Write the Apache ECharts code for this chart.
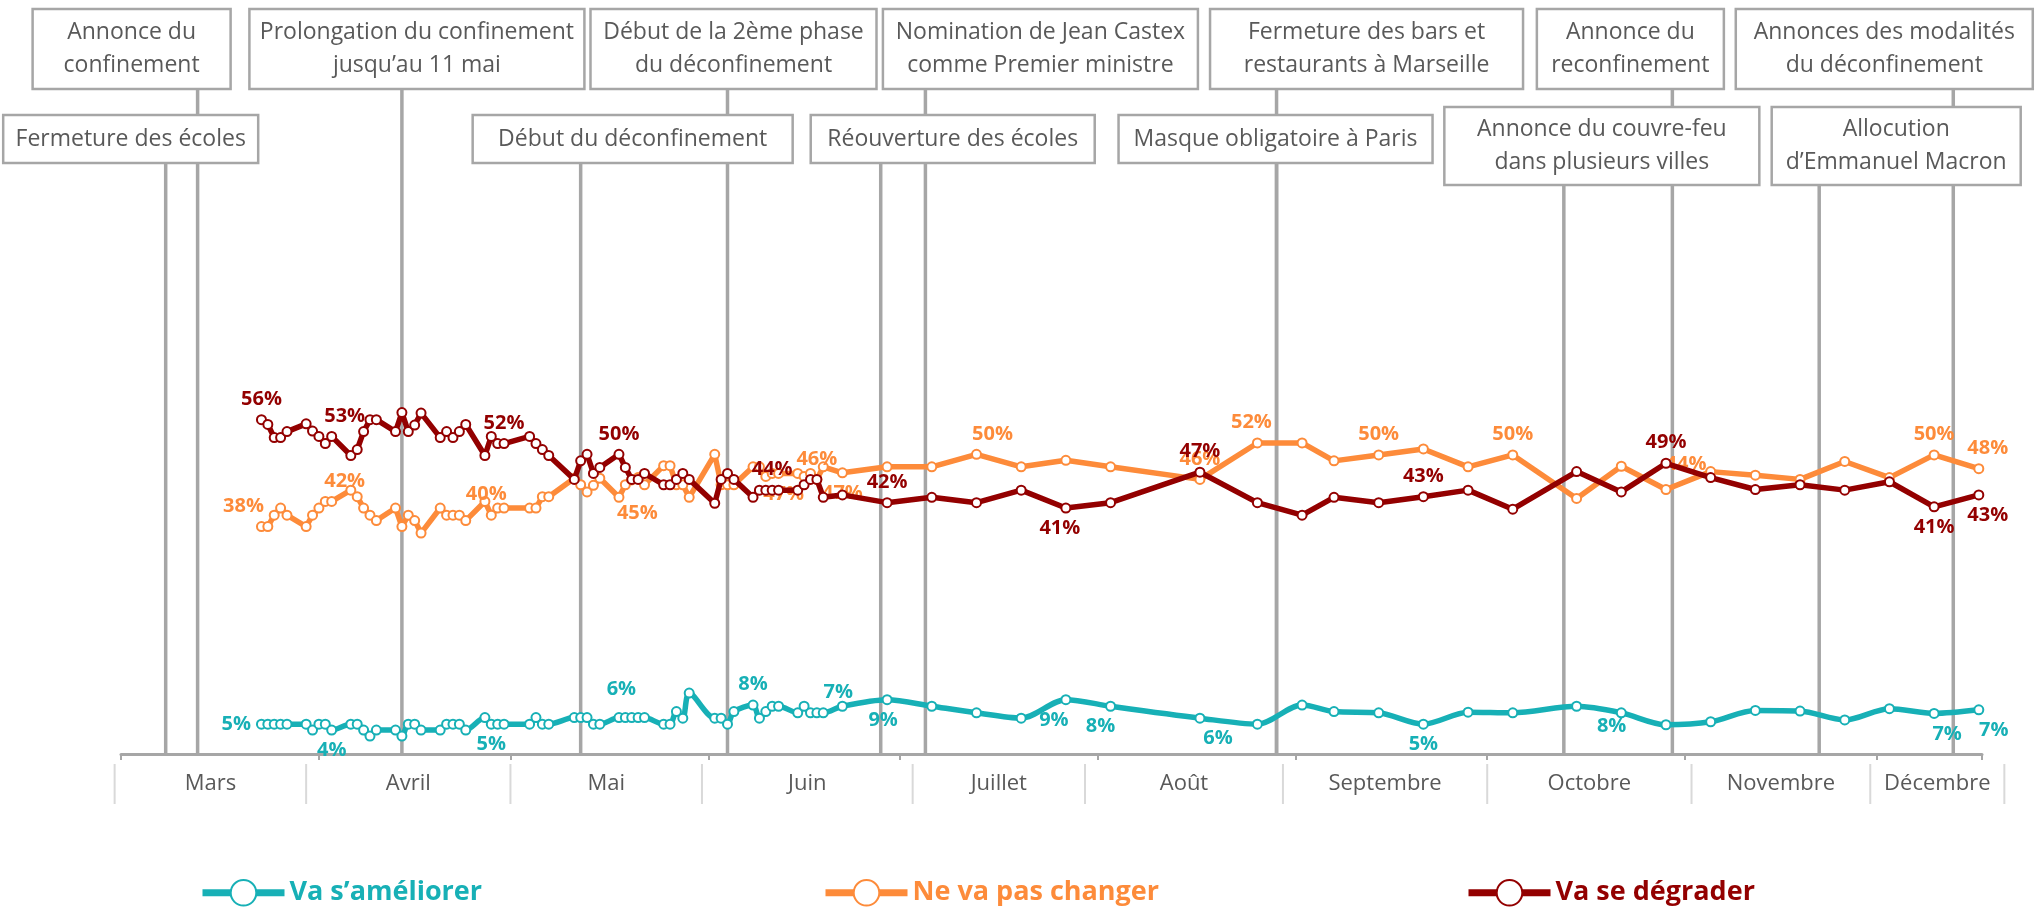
<!DOCTYPE html>
<html>
<head>
<meta charset="utf-8">
<script src="https://cdn.jsdelivr.net/npm/echarts@6/dist/echarts.min.js"></script>
<style>
  html, body { margin: 0; padding: 0; background: #fff; }
  #chart { width: 2037px; height: 910px; }
</style>
</head>
<body>
<div id="chart"></div>
<script>
// survey dates (weekdays in spring, then weekly)
const dates = [
  '2020-03-23','2020-03-24','2020-03-25','2020-03-26','2020-03-27',
  '2020-03-30','2020-03-31','2020-04-01','2020-04-02','2020-04-03',
  '2020-04-06','2020-04-07','2020-04-08','2020-04-09','2020-04-10',
  '2020-04-13','2020-04-14','2020-04-15','2020-04-16','2020-04-17',
  '2020-04-20','2020-04-21','2020-04-22','2020-04-23','2020-04-24',
  '2020-04-27','2020-04-28','2020-04-29','2020-04-30',
  '2020-05-04','2020-05-05','2020-05-06','2020-05-07',
  '2020-05-11','2020-05-12','2020-05-13','2020-05-14','2020-05-15',
  '2020-05-18','2020-05-19','2020-05-20','2020-05-21','2020-05-22',
  '2020-05-25','2020-05-26','2020-05-27','2020-05-28','2020-05-29',
  '2020-06-02','2020-06-03','2020-06-04','2020-06-05',
  '2020-06-08','2020-06-09','2020-06-10','2020-06-11','2020-06-12',
  '2020-06-15','2020-06-16','2020-06-17','2020-06-18','2020-06-19',
  '2020-06-22','2020-06-29','2020-07-06','2020-07-13','2020-07-20','2020-07-27','2020-08-03',
  '2020-08-17','2020-08-26','2020-09-02','2020-09-07','2020-09-14','2020-09-21','2020-09-28',
  '2020-10-05','2020-10-15','2020-10-22','2020-10-29','2020-11-05','2020-11-12','2020-11-19',
  '2020-11-26','2020-12-03','2020-12-10','2020-12-17'
];

const better = [
  5.0, 5.0, 5.0, 5.0, 5.0,
  5.0, 4.0, 5.0, 5.0, 4.0,
  5.0, 5.0, 4.0, 3.0, 4.0,
  4.0, 3.0, 5.0, 5.0, 4.0,
  4.0, 5.0, 5.0, 5.0, 4.0,
  6.1, 5.0, 5.0, 5.0,
  5.0, 6.1, 5.0, 5.0,
  6.1, 6.1, 6.1, 5.0, 5.0,
  6.1, 6.1, 6.1, 6.1, 6.1,
  5.0, 5.0, 7.1, 6.0, 10.2,
  6.0, 6.0, 5.0, 7.1,
  8.2, 6.0, 7.1, 8.0, 8.0,
  6.9, 8.0, 6.9, 6.9, 6.9,
  8.0, 9.1, 8.0, 6.9, 6.0, 9.1, 8.0,
  6.0, 5.0, 8.2, 7.1, 6.9, 5.0, 7.0,
  6.9, 8.0, 6.9, 4.9, 5.4, 7.3, 7.2,
  5.7, 7.6, 6.8, 7.4
];

const same = [
  38.1, 38.1, 40.0, 41.2, 40.0,
  38.1, 40.0, 41.2, 42.3, 42.3,
  44.2, 43.1, 41.2, 40.0, 39.1,
  41.2, 38.1, 40.0, 39.1, 37.0,
  41.2, 40.0, 40.0, 40.0, 39.1,
  42.3, 40.0, 41.2, 41.2,
  41.2, 41.2, 43.1, 43.1,
  46.2, 45.1, 43.9, 45.0, 46.2,
  43.0, 45.1, 45.9, 46.3, 45.1,
  48.3, 48.3, 45.1, 45.1, 43.0,
  50.2, 45.1, 45.1, 45.1,
  48.1, 48.1, 46.5, 47.0, 47.0,
  47.0, 46.5, 47.0, 46.0, 48.1,
  47.1, 48.1, 48.1, 50.2, 48.1, 49.2, 48.1,
  46.0, 52.1, 52.1, 49.1, 50.1, 51.1, 48.1,
  50.1, 42.8, 48.2, 44.3, 47.3, 46.7, 46.0,
  49.0, 46.3, 50.1, 47.8
];

const worse = [
  56.0, 55.2, 53.0, 53.0, 54.0,
  55.3, 54.1, 53.2, 52.0, 53.2,
  50.0, 51.0, 54.0, 56.0, 56.0,
  54.0, 57.2, 54.0, 55.1, 57.1,
  53.0, 54.0, 53.0, 54.0, 55.2,
  50.0, 53.2, 52.0, 52.0,
  53.2, 52.0, 51.0, 50.0,
  46.0, 49.1, 50.2, 47.0, 48.0,
  50.2, 48.0, 46.0, 46.0, 47.0,
  45.1, 45.1, 46.0, 47.0, 46.0,
  42.0, 46.0, 47.0, 46.0,
  43.0, 44.2, 44.2, 44.2, 44.2,
  44.2, 45.1, 46.0, 46.0, 43.0,
  43.4, 42.1, 43.0, 42.1, 44.2, 41.2, 42.1,
  47.2, 42.1, 40.0, 43.0, 42.1, 43.1, 44.2,
  41.0, 47.3, 43.9, 48.7, 46.3, 44.3, 45.1,
  44.2, 45.6, 41.4, 43.4
];

const seriesNames = ['Va s\u2019améliorer', 'Ne va pas changer', 'Va se dégrader'];
const seriesColors = ['#17b0b6', '#fd8b3a', '#930000'];

// month row under the axis
const months = ['Mars', 'Avril', 'Mai', 'Juin', 'Juillet', 'Août', 'Septembre', 'Octobre', 'Novembre', 'Décembre'];
const monthBounds = ['2020-02-29', '2020-03-30', '2020-05-01', '2020-05-31', '2020-07-03', '2020-07-30',
  '2020-08-30', '2020-10-01', '2020-11-02', '2020-11-30', '2020-12-21'];

// events
const eventLabels = [
  'Annonce du\nconfinement',
  'Prolongation du confinement\njusqu\u2019au 11 mai',
  'Début de la 2ème phase\ndu déconfinement',
  'Nomination de Jean Castex\ncomme Premier ministre',
  'Fermeture des bars et\nrestaurants à Marseille',
  'Annonce du\nreconfinement',
  'Annonces des modalités\ndu déconfinement',
  'Fermeture des écoles',
  'Début du déconfinement',
  'Réouverture des écoles',
  'Masque obligatoire à Paris',
  'Annonce du couvre-feu\ndans plusieurs villes',
  'Allocution\nd\u2019Emmanuel Macron'
];
const eventDates = [
  '2020-03-13', '2020-04-14', '2020-06-04', '2020-07-05', '2020-08-29', '2020-10-30', '2020-12-13',
  '2020-03-08', '2020-05-12', '2020-06-28', '2020-08-29', '2020-10-13', '2020-11-22'
];

// box layout: [row, offset of box centre from the line (px), box width (px)]
const eventBoxes = [
  [0, -66, 198], [0, 15, 335], [0, 6, 286], [0, 115, 315], [0, 90, 313], [0, -42, 187], [0, -69, 297],
  [1, -35, 255], [1, 52, 320], [1, 72, 284], [1, -1, 314], [1, 38, 315], [1, 77, 249]
];

// label placement: date -> [position, dx, dy]
const labelPlaces = [
  { // better
    '2020-03-23': ['left'], '2020-04-03': ['bottom'], '2020-04-28': ['bottom'], '2020-05-19': ['top', -4, -8],
    '2020-06-08': ['top'], '2020-06-19': ['top', 15, 0], '2020-06-29': ['bottom', -4, 0], '2020-07-27': ['bottom', -12, 0],
    '2020-08-03': ['bottom', -10, 0], '2020-08-17': ['bottom', 18, 0], '2020-09-21': ['bottom'],
    '2020-10-15': ['bottom', 35, 0], '2020-12-10': ['bottom', 13, 0], '2020-12-17': ['bottom', 15, 0]
  },
  { // same
    '2020-03-23': ['top', -18, 0], '2020-04-03': ['top', 13, 0], '2020-04-28': ['top', -5, 0],
    '2020-05-19': ['bottom', 12, 8], '2020-06-12': ['bottom', 5, 0], '2020-06-18': ['top'], '2020-06-22': ['bottom'],
    '2020-07-13': ['top', 16, 0], '2020-08-17': ['top'], '2020-08-26': ['top', -6, 0], '2020-09-14': ['top'],
    '2020-10-05': ['top'], '2020-10-29': ['top', 20, -5], '2020-12-10': ['top'], '2020-12-17': ['top', 9, 0]
  },
  { // worse
    '2020-03-23': ['top'], '2020-04-03': ['top', 13, 0], '2020-04-30': ['top'], '2020-05-18': ['top'],
    '2020-06-11': ['top'], '2020-06-29': ['top'], '2020-07-27': ['bottom', -6, 0], '2020-08-17': ['top'],
    '2020-09-21': ['top'], '2020-10-29': ['top'], '2020-12-10': ['bottom'], '2020-12-17': ['bottom', 9, 0]
  }
];

const FONT = 'Open Sans';
const HOUR = 3600000;
function t(s) {
  const p = s.split('-').map(Number);
  return new Date(p[0], p[1] - 1, p[2]).getTime();
}
const xMin = t('2020-03-01');
const xMax = t('2020-12-17') + 12 * HOUR;

function lineSeries(k, values, z, smooth) {
  const color = seriesColors[k];
  return {
    name: seriesNames[k],
    type: 'line',
    z: z,
    smooth: smooth,
    symbol: 'emptyCircle',
    symbolSize: 9,
    lineStyle: { color: color, width: 5.5 },
    itemStyle: { color: color, borderColor: color, borderWidth: 3 },
    label: {
      show: false, color: color, fontFamily: FONT, fontSize: 20, fontWeight: 'bold',
      formatter: p => Math.round(p.value[1]) + '%'
    },
    emphasis: { disabled: true },
    data: dates.map((d, i) => {
      const item = { value: [t(d), values[i]] };
      const lp = labelPlaces[k][d];
      if (lp) item.label = { show: true, position: lp[0], offset: [lp[1] || 0, lp[2] || 0] };
      return item;
    })
  };
}

function renderEvent(params, api) {
  const i = params.dataIndex;
  const box = eventBoxes[i];
  const nLines = eventLabels[i].split('\n').length;
  const base = api.coord([api.value(0), 0]);
  const x = base[0], axisY = base[1];
  let top, h;
  if (box[0] === 0) { top = 9; h = 80; }
  else if (nLines === 1) { top = 115; h = 48; }
  else { top = 107; h = 78; }
  const cx = x + box[1], w = box[2];
  return {
    type: 'group',
    children: [
      { type: 'line', z2: 0, shape: { x1: x, y1: top + h, x2: x, y2: axisY },
        style: { stroke: '#a6a6a6', lineWidth: 3.5 } },
      { type: 'rect', z2: 5, shape: { x: cx - w / 2, y: top, width: w, height: h },
        style: { fill: '#fff', stroke: '#a6a6a6', lineWidth: 2.5 } },
      { type: 'text', z2: 6, style: { text: eventLabels[i], x: cx, y: top + h / 2, align: 'center',
        verticalAlign: 'middle', fontFamily: FONT, fontSize: 23, lineHeight: 33.5, fill: '#595959' } }
    ]
  };
}

function renderMonth(params, api) {
  const i = params.dataIndex;
  const x0 = api.coord([api.value(0), 0])[0];
  const x1 = api.coord([api.value(1), 0])[0];
  const yBot = api.coord([api.value(0), 0])[1];
  const yTop = api.coord([api.value(0), 1])[1];
  const sep = xx => ({ type: 'line', shape: { x1: xx, y1: yTop, x2: xx, y2: yBot },
    style: { stroke: '#d9d9d9', lineWidth: 2 } });
  const children = [
    sep(x0),
    { type: 'text', style: { text: months[i], x: (x0 + x1) / 2, y: (yTop + yBot) / 2, align: 'center',
      verticalAlign: 'middle', fontFamily: FONT, fontSize: 22, fill: '#595959' } }
  ];
  if (i === months.length - 1) children.push(sep(x1));
  return { type: 'group', children: children };
}

const legendLeft = [194, 817, 1460];

const option = {
  animation: false,
  backgroundColor: '#fff',
  grid: [
    { left: 121, width: 1861, top: 157, height: 597 },
    { left: 121, width: 1861, top: 764, height: 40 }
  ],
  xAxis: [
    {
      type: 'time', gridIndex: 0, min: xMin, max: xMax,
      minInterval: 28 * 24 * HOUR, maxInterval: 31 * 24 * HOUR,
      axisLine: { lineStyle: { color: '#a6a6a6', width: 3 } },
      axisTick: { show: true, length: 6, lineStyle: { color: '#a6a6a6', width: 2 } },
      axisLabel: { show: false },
      splitLine: { show: false }
    },
    { type: 'time', gridIndex: 1, min: xMin, max: xMax, show: false }
  ],
  yAxis: [
    { type: 'value', gridIndex: 0, min: 0, max: 100, show: false },
    { type: 'value', gridIndex: 1, min: 0, max: 1, show: false }
  ],
  legend: [0, 1, 2].map(k => ({
    data: [seriesNames[k]],
    left: legendLeft[k], top: 874,
    itemWidth: 82, itemHeight: 32, itemGap: 8,
    selectedMode: false,
    lineStyle: { width: 7 },
    itemStyle: { borderWidth: 6 },
    textStyle: { color: seriesColors[k], fontFamily: FONT, fontSize: 27, fontWeight: 'bold' }
  })),
  series: [
    {
      type: 'custom', name: 'events', z: 1, clip: false, silent: true,
      xAxisIndex: 0, yAxisIndex: 0,
      encode: { x: 0, y: 1 },
      data: eventDates.map(d => [t(d), 0]),
      renderItem: renderEvent
    },
    {
      type: 'custom', name: 'months', clip: false, silent: true,
      xAxisIndex: 1, yAxisIndex: 1,
      encode: { x: [0, 1], y: 2 },
      data: months.map((m, i) => [t(monthBounds[i]), t(monthBounds[i + 1]), 0]),
      renderItem: renderMonth
    },
    lineSeries(0, better, 3, 0.3),
    lineSeries(1, same, 4, false),
    lineSeries(2, worse, 5, false)
  ]
};

const chart = echarts.init(document.getElementById('chart'));
chart.setOption(option);
</script>
</body>
</html>
